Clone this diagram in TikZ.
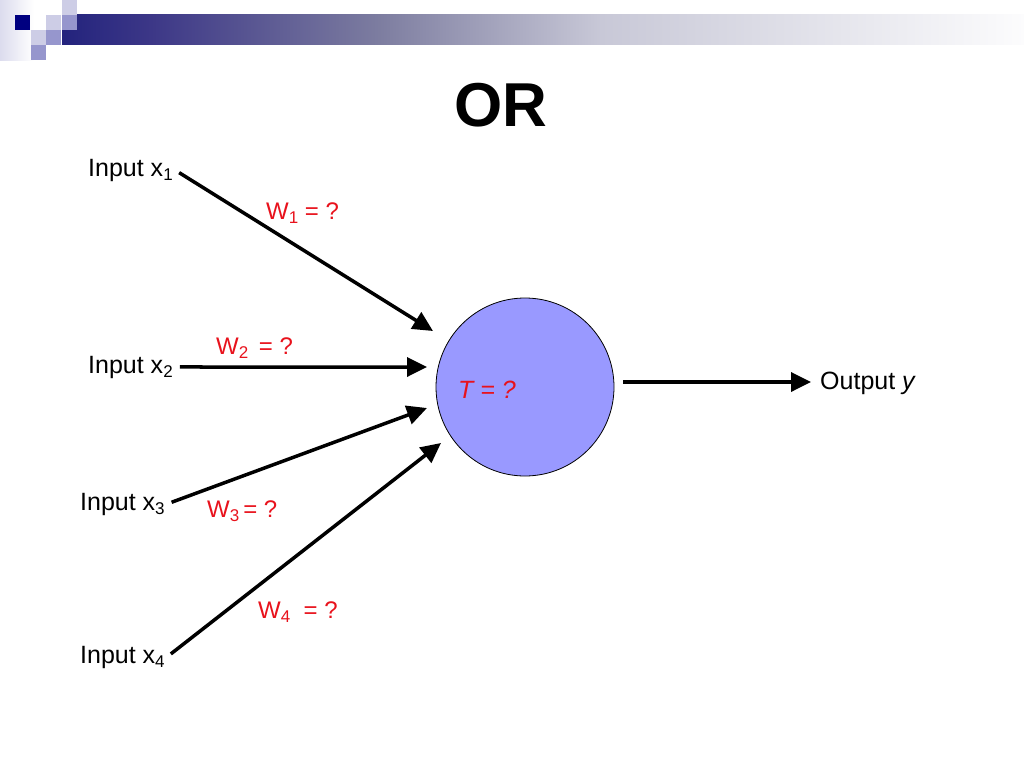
\documentclass[tikz,border=0pt]{standalone}
\usepackage{fontspec}
\setmainfont{Liberation Sans}
\usetikzlibrary{arrows.meta}
\usetikzlibrary{positioning,calc}

\definecolor{navybox}{RGB}{0,0,128}
\definecolor{lightbox}{RGB}{205,205,230}
\definecolor{midbox}{RGB}{150,150,205}
\definecolor{neuronblue}{RGB}{153,153,255}
\definecolor{weightred}{RGB}{232,18,28}
\definecolor{barA}{RGB}{35,35,125}
\definecolor{barB}{RGB}{60,55,135}
\definecolor{barC}{RGB}{125,125,160}
\definecolor{barD}{RGB}{200,200,215}
\definecolor{barE}{RGB}{252,252,253}
\pgfdeclarehorizontalshading{titlebar}{100bp}{color(0bp)=(barA); color(25bp)=(barA); color(29.6bp)=(barB); color(41.5bp)=(barC); color(53bp)=(barD); color(75bp)=(barE); color(100bp)=(barE)}

\newcommand{\lowsub}[1]{\raisebox{-4.5pt}{\fontsize{17}{20}\selectfont #1}}

\tikzset{
  input/.style={anchor=base west, inner sep=2pt, font=\fontsize{25}{30}\selectfont},
  weight/.style={anchor=base west, inner sep=0pt, text=weightred, font=\fontsize{24}{28}\selectfont},
  link/.style={line width=3.5pt, shorten <=5pt},
}

\begin{document}
\begin{tikzpicture}[x=1pt, y=-1pt, >={Triangle[length=20pt,width=19pt]}]
		\useasboundingbox (0,0) rectangle (1024,768);
		\shade[left color=lightbox!70, right color=white] (0,0) rectangle (34,60);
		\shade[shading=titlebar] (62,15) rectangle (1024,45);
		\fill[navybox] (15,15) rectangle (30,30);
		\fill[lightbox] (62,0) rectangle (77,15);
		\fill[lightbox] (46,15) rectangle (61,30);
		\fill[midbox] (62,15) rectangle (77,30);
		\fill[lightbox] (31,30) rectangle (46,45);
		\fill[midbox] (46,30) rectangle (61,45);
		\fill[midbox] (31,45) rectangle (46,60);
		
		\node[anchor=base, font=\fontsize{62}{70}\selectfont\bfseries] (title) at (501,126) {OR};
		
		\node[circle, draw, line width=0.8pt, fill=neuronblue, minimum size=178pt, inner sep=0pt] (neuron) at (525,387) {};
		\node[weight, font=\fontsize{25}{30}\selectfont\itshape] (thresh) at (458,398) {T = ?};
		
		\node[input] (in1) at (86,176) {Input x\lowsub{1}};
		\node[input] (in2) at (86,373) {Input x\lowsub{2}};
		\node[input] (in3) at (78,510) {Input x\lowsub{3}};
		\node[input] (in4) at (78,663) {Input x\lowsub{4}};
		
		\node[weight] (w1) at (266,219) {W\lowsub{1} = ?};
		\node[weight] (w2) at (216,354) {W\lowsub{2}\, = ?};
		\node[weight] (w3) at (207,517) {W\lowsub{3}\,= ?};
		\node[weight] (w4) at (258,618) {W\lowsub{4}\ \ = ?};
		
		\coordinate (tip1) at (433,331);
		\coordinate (tip2) at (427,367);
		\coordinate (tip3) at (427,408);
		\coordinate (tip4) at (441,443);
		\draw[link, ->] (in1.east) -- (tip1);
		\draw[link, ->] (in2.east) -- (tip2);
		\draw[link, ->] (in3.east) -- (tip3);
		\draw[link, ->] (in4.east) -- (tip4);
		
		\node[input] (out) at (818,389) {Output \textit{y}};
		\coordinate (o0) at (623,382);
		\draw[link, ->, shorten <=0pt, shorten >=7pt] (o0) -- (o0 -| out.west);
		\end{tikzpicture}
\end{document}
